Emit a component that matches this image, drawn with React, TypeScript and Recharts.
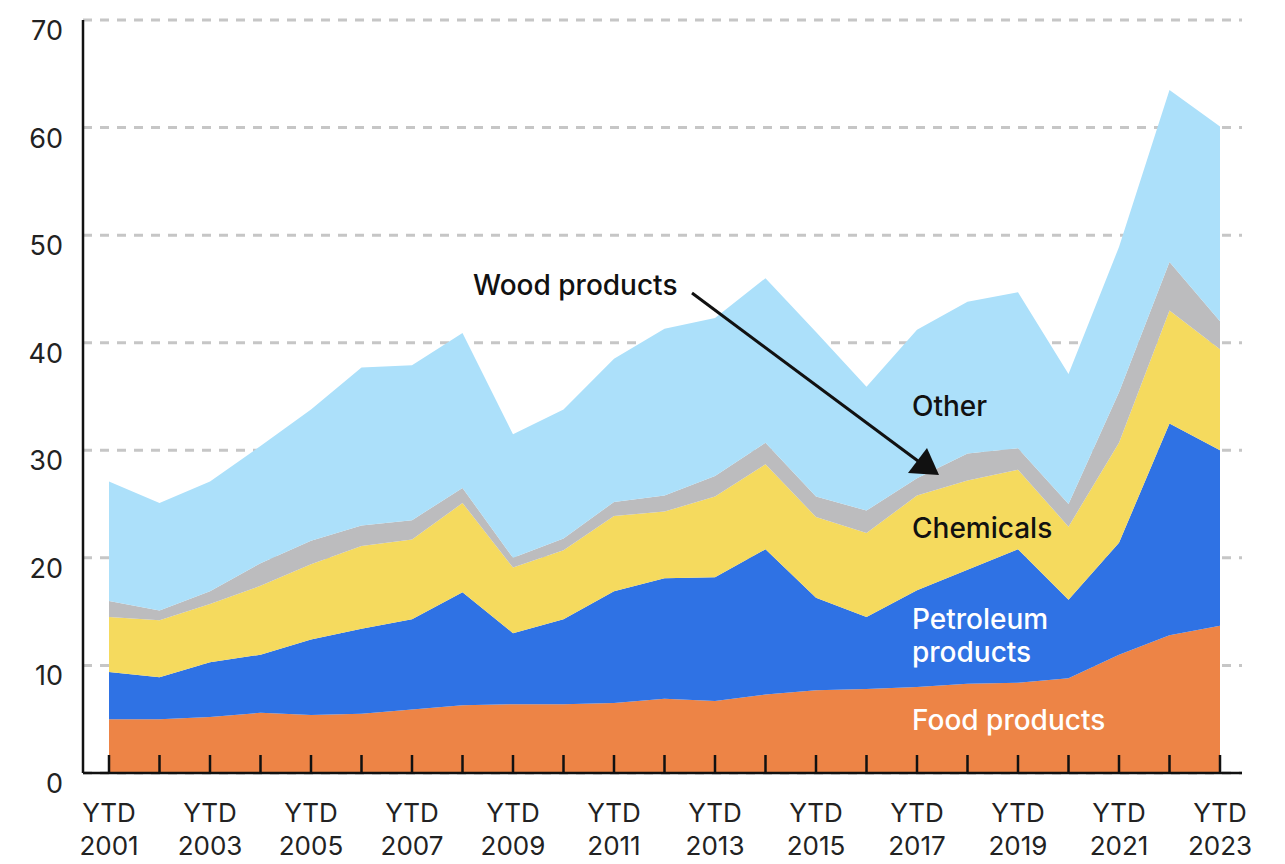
import React from "react";
import {
  Area,
  AreaChart,
  CartesianGrid,
  XAxis,
  YAxis,
} from "recharts";

const years = [
  "2001", "2002", "2003", "2004", "2005", "2006", "2007", "2008",
  "2009", "2010", "2011", "2012", "2013", "2014", "2015", "2016",
  "2017", "2018", "2019", "2020", "2021", "2022", "2023",
];

// billions, stacked bottom to top
const food = [5.0, 5.0, 5.2, 5.6, 5.4, 5.5, 5.9, 6.3, 6.4, 6.4, 6.5, 6.9, 6.7, 7.3, 7.7, 7.8, 8.0, 8.3, 8.4, 8.8, 11.0, 12.8, 13.7];
const petroleum = [4.4, 3.9, 5.1, 5.4, 7.0, 7.9, 8.4, 10.5, 6.6, 7.9, 10.4, 11.2, 11.5, 13.5, 8.6, 6.7, 9.0, 10.6, 12.4, 7.3, 10.4, 19.7, 16.3];
const chemicals = [5.1, 5.3, 5.4, 6.4, 7.0, 7.7, 7.4, 8.3, 6.1, 6.4, 7.0, 6.2, 7.5, 7.9, 7.5, 7.8, 8.8, 8.3, 7.4, 6.8, 9.3, 10.5, 9.4];
const wood = [1.5, 0.9, 1.2, 2.1, 2.2, 1.9, 1.8, 1.4, 0.9, 1.1, 1.3, 1.5, 1.9, 2.0, 1.9, 2.1, 1.6, 2.5, 2.0, 2.1, 4.7, 4.5, 2.6];
const other = [11.1, 10.0, 10.2, 10.9, 12.2, 14.7, 14.4, 14.4, 11.5, 12.0, 13.3, 15.5, 14.7, 15.3, 15.3, 11.5, 13.8, 14.1, 14.5, 12.1, 13.5, 16.0, 18.1];

const yTicks = [0, 10, 20, 30, 40, 50, 60, 70];

const data = years.map((year, i) => ({
  year,
  food: food[i],
  petroleum: petroleum[i],
  chemicals: chemicals[i],
  wood: wood[i],
  other: other[i],
}));

const FONT = "Inter, 'Noto Sans', sans-serif";
const TEXT = "#222222";

function XTick(props: any) {
  const { x, y, index, payload } = props;
  return (
    <g>
      <line x1={x} x2={x} y1={y - 18} y2={y} stroke="#111" strokeWidth={2.5} />
      {index % 2 === 0 && (
        <text
          x={x}
          textAnchor="middle"
          fill={TEXT}
          fontFamily={FONT}
          fontSize={26}
        >
          <tspan x={x} y={y + 49}>YTD</tspan>
          <tspan x={x} y={y + 82}>{payload.value}</tspan>
        </text>
      )}
    </g>
  );
}

function YTick(props: any) {
  const { x, y, payload } = props;
  return (
    <text
      x={x}
      y={y + 20}
      textAnchor="end"
      fill={TEXT}
      fontFamily={FONT}
      fontSize={27}
    >
      {payload.value}
    </text>
  );
}

// series labels and the wood-products pointer, drawn over the chart
function Annotations() {
  const label = { fontFamily: FONT, fontSize: 28, fontWeight: 500 };
  return (
    <svg
      width={1285}
      height={864}
      style={{ position: "absolute", left: 0, top: 0, pointerEvents: "none" }}
    >
      <text x={473} y={295} fill="#111" {...label}>Wood products</text>
      <line x1={692} y1={293} x2={918} y2={461} stroke="#111" strokeWidth={3} />
      <polygon points="939,475 908,473 927,448" fill="#111" />
      <text x={912} y={416} fill="#111" {...label}>Other</text>
      <text x={912} y={538} fill="#111" {...label}>Chemicals</text>
      <text x={912} y={629} fill="#fff" {...label}>Petroleum</text>
      <text x={912} y={662} fill="#fff" {...label}>products</text>
      <text x={912} y={730} fill="#fff" {...label}>Food products</text>
    </svg>
  );
}

export default function App() {
  return (
    <div style={{ position: "absolute", left: 0, top: 0, width: 1285, height: 864, background: "#fff" }}>
      <AreaChart
        width={1285}
        height={864}
        data={data}
        margin={{ top: 20, right: 43, bottom: 0, left: 0 }}
      >
        <CartesianGrid
          vertical={false}
          stroke="#c6c6c6"
          strokeWidth={3}
          strokeDasharray="9 8"
        />
        <Area type="linear" dataKey="food" stackId="1" stroke="none" fill="#ED8446" fillOpacity={1} isAnimationActive={false} />
        <Area type="linear" dataKey="petroleum" stackId="1" stroke="none" fill="#2F72E4" fillOpacity={1} isAnimationActive={false} />
        <Area type="linear" dataKey="chemicals" stackId="1" stroke="none" fill="#F5DA5E" fillOpacity={1} isAnimationActive={false} />
        <Area type="linear" dataKey="wood" stackId="1" stroke="none" fill="#BCBCBE" fillOpacity={1} isAnimationActive={false} />
        <Area type="linear" dataKey="other" stackId="1" stroke="none" fill="#ACE0FA" fillOpacity={1} isAnimationActive={false} />
        <XAxis
          dataKey="year"
          height={91}
          interval={0}
          padding={{ left: 26, right: 22 }}
          tickLine={false}
          tickSize={0}
          tickMargin={0}
          axisLine={{ stroke: "#111", strokeWidth: 2.5 }}
          tick={<XTick />}
        />
        <YAxis
          width={83}
          domain={[0, 70]}
          ticks={yTicks}
          tickLine={false}
          tickSize={0}
          tickMargin={20}
          axisLine={{ stroke: "#111", strokeWidth: 2.5 }}
          tick={<YTick />}
        />
      </AreaChart>
      <Annotations />
    </div>
  );
}
